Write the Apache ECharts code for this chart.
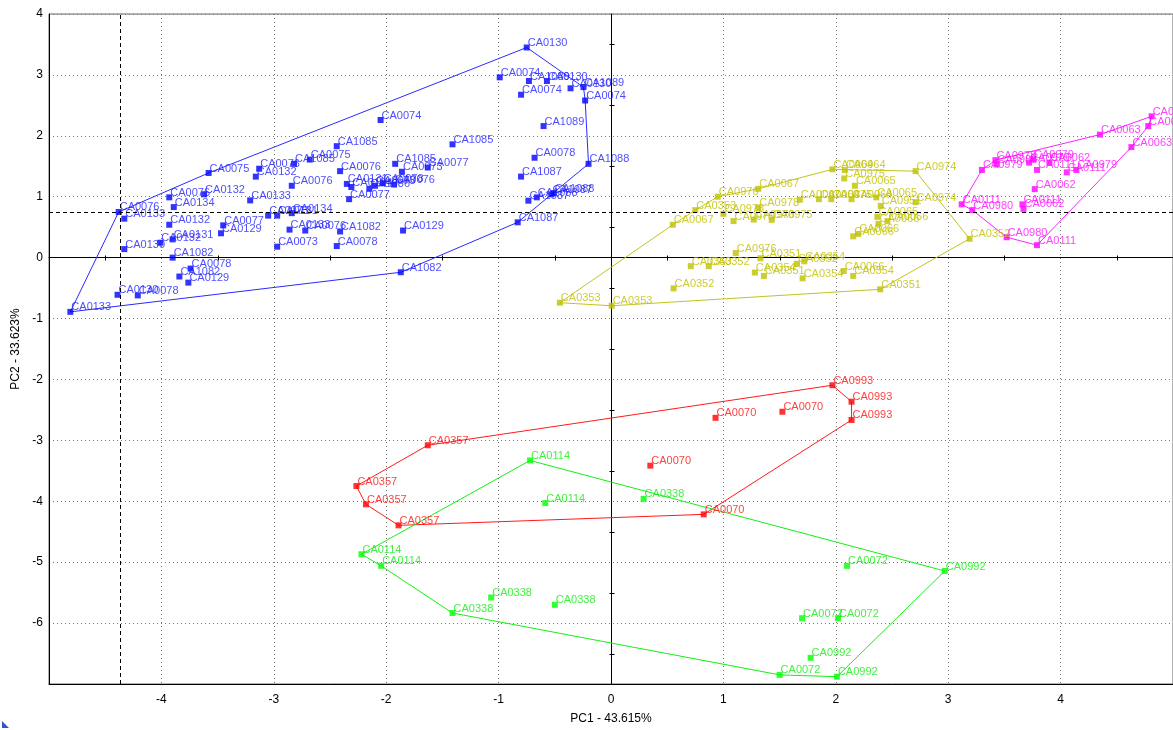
<!DOCTYPE html>
<html><head><meta charset="utf-8">
<script src="https://cdn.jsdelivr.net/npm/echarts@6/dist/echarts.min.js"></script>
<style>html,body{margin:0;padding:0;background:#fff}#c{width:1173px;height:730px}</style>
</head><body><div id="c"></div>
<script>
const xRange = [-5, 5];
const yRange = [-7, 4];
const xTitle = 'PC1 - 43.615%';
const yTitle = 'PC2 - 33.623%';
const refLineX = -4.37;
const refLineY = 0.74;

const bluePoints = [
 [-4.81,-0.89,'CA0133'],[-4.38,0.75,'CA0076'],[-4.33,0.64,'CA0133'],[-4.33,0.14,'CA0130'],
 [-3.58,1.39,'CA0075'],[-3.93,0.99,'CA0076'],[-3.62,1.04,'CA0132'],[-3.89,0.83,'CA0134'],
 [-3.93,0.54,'CA0132'],[-4.01,0.245,'CA0132'],[-3.90,0.30,'CA0131'],[-3.90,0.00,'CA1082'],
 [-3.74,-0.18,'CA0078'],[-3.84,-0.31,'CA1082'],[-3.76,-0.41,'CA0129'],[-4.39,-0.61,'CA0130'],
 [-4.21,-0.62,'CA0078'],[-3.21,0.94,'CA0133'],[-3.45,0.53,'CA0077'],[-3.47,0.40,'CA0129'],
 [-3.13,1.46,'CA0076'],[-3.16,1.33,'CA0132'],[-2.82,1.54,'CA1085'],[-2.68,1.61,'CA0075'],
 [-2.84,1.18,'CA0076'],[-2.44,1.83,'CA1085'],[-2.41,1.42,'CA0076'],[-2.35,1.21,'CA0131'],
 [-2.31,1.16,'CA0134'],[-2.33,0.96,'CA0077'],[-2.15,1.13,'CA1086'],[-2.10,1.18,'CA0073'],
 [-2.03,1.22,'CA0078'],[-1.93,1.20,'CA0076'],[-1.86,1.41,'CA0073'],[-1.92,1.54,'CA1085'],
 [-1.63,1.48,'CA0077'],[-2.05,2.26,'CA0074'],[-1.41,1.86,'CA1085'],[-3.05,0.69,'CA0073'],
 [-2.97,0.69,'CA0131'],[-2.84,0.73,'CA0134'],[-2.86,0.46,'CA0133'],[-2.72,0.445,'CA0076'],
 [-2.41,0.43,'CA1082'],[-2.97,0.18,'CA0073'],[-2.44,0.19,'CA0078'],[-1.85,0.445,'CA0129'],
 [-1.87,-0.24,'CA1082'],[-0.75,3.45,'CA0130'],[-0.99,2.96,'CA0074'],[-0.73,2.90,'CA1089'],
 [-0.57,2.90,'CA0130'],[-0.80,2.675,'CA0074'],[-0.36,2.78,'CA0130'],[-0.245,2.80,'CA1089'],
 [-0.23,2.58,'CA0074'],[-0.60,2.16,'CA1089'],[-0.68,1.64,'CA0078'],[-0.20,1.54,'CA1088'],
 [-0.80,1.33,'CA1087'],[-0.735,0.935,'CA1087'],[-0.66,0.99,'CA1088'],[-0.53,1.04,'CA1087'],
 [-0.51,1.06,'CA1088'],[-0.83,0.58,'CA1087']
];
const blueHull = [0,1,4,49,55,56,59,65,48];

const yellowPoints = [
 [-0.455,-0.74,'CA0353'],[0.006,-0.79,'CA0353'],[0.55,0.54,'CA0067'],[0.75,0.78,'CA0353'],
 [0.95,1.00,'CA0976'],[1.31,1.13,'CA0067'],[1.00,0.72,'CA0978'],[1.09,0.60,'CA0975'],
 [1.31,0.82,'CA0978'],[1.27,0.625,'CA0976'],[1.43,0.62,'CA0975'],[1.68,0.95,'CA0067'],
 [1.85,0.96,'CA0064'],[1.96,0.96,'CA0975'],[1.97,1.45,'CA0964'],[2.08,1.44,'CA0964'],
 [2.075,1.30,'CA0975'],[2.17,1.18,'CA0065'],[2.14,0.96,'CA0064'],[2.36,0.99,'CA0065'],
 [2.40,0.85,'CA0951'],[2.37,0.67,'CA0065'],[2.38,0.555,'CA0066'],[2.46,0.60,'CA0066'],
 [2.155,0.35,'CA0066'],[2.20,0.39,'CA0066'],[2.71,1.42,'CA0974'],[2.71,0.91,'CA0974'],
 [0.71,-0.14,'CA0353'],[0.87,-0.14,'CA0352'],[1.11,0.075,'CA0976'],[1.33,-0.01,'CA0351'],
 [1.28,-0.245,'CA0354'],[1.36,-0.30,'CA0351'],[1.655,-0.10,'CA0352'],[1.72,-0.06,'CA0354'],
 [1.705,-0.34,'CA0354'],[2.07,-0.22,'CA0066'],[2.155,-0.30,'CA0354'],[2.395,-0.52,'CA0351'],
 [0.557,-0.505,'CA0352'],[3.19,0.31,'CA0352']
];
const yellowHull = [0,2,3,4,5,14,26,41,39,1];

const magentaPoints = [
 [3.12,0.875,'CA0111'],[3.215,0.78,'CA0980'],[3.52,0.335,'CA0980'],[3.79,0.205,'CA0111'],
 [4.63,1.815,'CA0063'],[4.78,2.16,'CA0063'],[4.81,2.32,'CA0063'],[4.35,2.02,'CA0063'],
 [3.30,1.44,'CA0979'],[3.42,1.60,'CA0978'],[3.43,1.53,'CA0988'],[3.72,1.56,'CA0979'],
 [3.755,1.615,'CA0979'],[3.79,1.44,'CA0111'],[3.90,1.56,'CA0062'],[4.055,1.40,'CA0111'],
 [4.14,1.44,'CA0979'],[3.77,1.125,'CA0062'],[3.66,0.875,'CA0111'],[3.67,0.80,'CA0062']
];
const magentaHull = [0,8,9,7,6,5,4,3,2,1];

const redPoints = [
 [-1.63,-3.08,'CA0357'],[-2.265,-3.75,'CA0357'],[-2.18,-4.05,'CA0357'],[-1.89,-4.395,'CA0357'],
 [1.97,-2.095,'CA0993'],[2.14,-2.365,'CA0993'],[2.14,-2.665,'CA0993'],[0.93,-2.63,'CA0070'],
 [1.525,-2.53,'CA0070'],[0.35,-3.415,'CA0070'],[0.825,-4.215,'CA0070']
];
const redHull = [0,4,5,6,10,3,2,1];

const greenPoints = [
 [-0.72,-3.33,'CA0114'],[-0.585,-4.03,'CA0114'],[0.29,-3.96,'CA0338'],[-2.22,-4.87,'CA0114'],
 [-2.045,-5.06,'CA0114'],[-1.41,-5.835,'CA0338'],[-1.066,-5.58,'CA0338'],[-0.50,-5.70,'CA0338'],
 [2.10,-5.06,'CA0072'],[2.97,-5.145,'CA0992'],[1.70,-5.92,'CA0072'],[2.02,-5.92,'CA0072'],
 [1.776,-6.57,'CA0992'],[1.50,-6.85,'CA0072'],[2.01,-6.88,'CA0992']
];
const greenHull = [0,9,14,13,5,4,3];

const groups = [
 {name:'blue', pts:bluePoints, hull:blueHull, color:'#0000ff', line:'#2a2aff', text:'#1c1cff'},
 {name:'yellow', pts:yellowPoints, hull:yellowHull, color:'#bfbf00', line:'#c4c420', text:'#c0c000'},
 {name:'magenta', pts:magentaPoints, hull:magentaHull, color:'#ff00ff', line:'#ff22ff', text:'#ff10ff'},
 {name:'red', pts:redPoints, hull:redHull, color:'#ff0000', line:'#ff1a1a', text:'#ff1010'},
 {name:'green', pts:greenPoints, hull:greenHull, color:'#00ff00', line:'#14f014', text:'#10ee10'}
];

// half-unit crossing ticks on the zero lines (axis decoration)
const zeroTicks = [];
for (let v = xRange[0] + 0.5; v < xRange[1]; v += 1) zeroTicks.push([v, 0, 'x']);
for (let v = yRange[0] + 0.5; v < yRange[1]; v += 1) zeroTicks.push([0, v, 'y']);

const FONT = 'Liberation Sans, Arial, sans-serif';
const series = [];
groups.forEach((g, gi) => {
  series.push({
    type:'line', name:g.name+'-hull', silent:true, z:1,
    symbol:'none', showSymbol:false,
    lineStyle:{color:g.line, width:1},
    data:g.hull.concat([g.hull[0]]).map(i => [g.pts[i][0], g.pts[i][1]])
  });
  const s = {
    type:'scatter', name:g.name, z:3, symbol:'rect', symbolSize:6,
    itemStyle:{color:g.color},
    label:{show:true, formatter:'{b}', position:[4,4], align:'left', verticalAlign:'bottom',
      color:g.text, fontSize:11, lineHeight:11, fontFamily:FONT},
    data:g.pts.map(p => ({value:[p[0], p[1]], name:p[2]}))
  };
  if (gi === 0) {
    s.markLine = {silent:true, symbol:'none', label:{show:false}, animation:false,
      lineStyle:{color:'#000', type:[4,3], width:1},
      data:[{xAxis:refLineX},{yAxis:refLineY}]};
  }
  series.push(s);
});
series.push({
  type:'custom', silent:true, z:2, clip:false,
  data:zeroTicks.map(t => [t[0], t[1], t[2] === 'x' ? 0 : 1]),
  renderItem:function(params, api){
    const p = api.coord([api.value(0), api.value(1)]);
    const horiz = api.value(2) === 0;
    const x = Math.round(p[0]) + 0.5, y = Math.round(p[1]) + 0.5;
    const shape = horiz ? {x1:x, y1:y-3, x2:x, y2:y+2} : {x1:x-2, y1:y, x2:x+3, y2:y};
    return {type:'line', shape:shape, style:{stroke:'#000', lineWidth:1}};
  }
});

const chart = echarts.init(document.getElementById('c'), null, {renderer:'canvas'});
chart.setOption({
  animation:false,
  backgroundColor:'#fff',
  grid:{left:49, right:-2, top:14, bottom:42, show:true, borderColor:'#666', borderWidth:1},
  xAxis:[{
    type:'value', min:xRange[0], max:xRange[1], interval:1, position:'bottom',
    name:xTitle, nameLocation:'middle', nameGap:29,
    nameTextStyle:{color:'#000', fontSize:12, fontFamily:FONT},
    axisLine:{onZero:false, lineStyle:{color:'#000', width:1}},
    axisTick:{show:false},
    axisLabel:{color:'#000', fontSize:12, fontFamily:FONT, margin:10, showMinLabel:false, showMaxLabel:false},
    splitLine:{show:true, lineStyle:{color:'#777', type:[1,3], width:1}}
  },{
    type:'value', min:xRange[0], max:xRange[1], interval:1, position:'top',
    axisLine:{show:true, onZero:true, onZeroAxisIndex:0, lineStyle:{color:'#000', width:1}},
    axisTick:{show:false}, axisLabel:{show:false}, splitLine:{show:false}
  }],
  yAxis:[{
    type:'value', min:yRange[0], max:yRange[1], interval:1, position:'left',
    name:yTitle, nameLocation:'middle', nameGap:19,
    nameTextStyle:{color:'#000', fontSize:12, fontFamily:FONT},
    axisLine:{onZero:false, lineStyle:{color:'#000', width:1}},
    axisTick:{show:false},
    axisLabel:{color:'#000', fontSize:12, fontFamily:FONT, margin:6, showMinLabel:false, showMaxLabel:true},
    splitLine:{show:true, lineStyle:{color:'#777', type:[1,3], width:1}}
  },{
    type:'value', min:yRange[0], max:yRange[1], interval:1, position:'right',
    axisLine:{show:true, onZero:true, onZeroAxisIndex:0, lineStyle:{color:'#000', width:1}},
    axisTick:{show:false}, axisLabel:{show:false}, splitLine:{show:false}
  }],
  graphic:[{type:'polygon', left:2, bottom:2, shape:{points:[[0,0],[0,7],[7,7]]}, style:{fill:'#3355cc'}}],
  series:series
});
</script></body></html>
